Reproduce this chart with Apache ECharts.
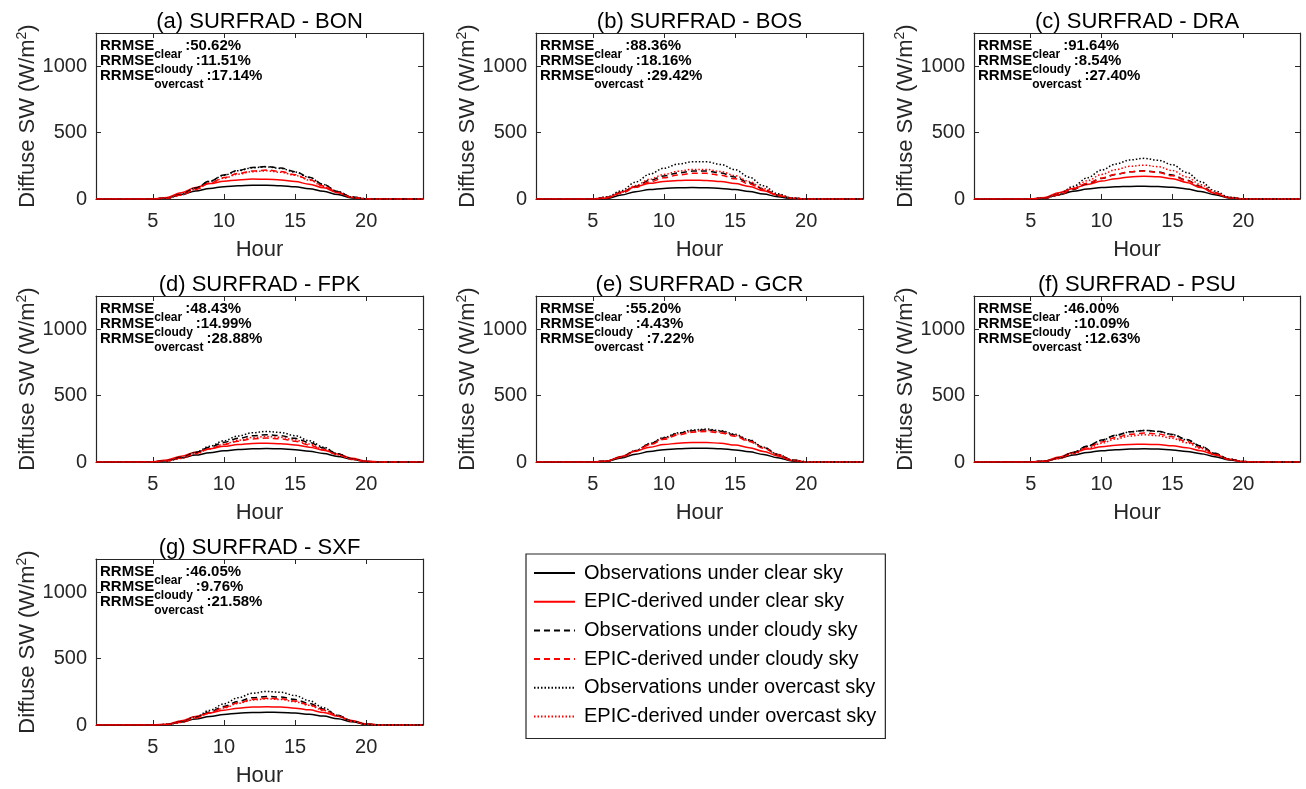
<!DOCTYPE html>
<html><head><meta charset="utf-8">
<script src="https://cdn.jsdelivr.net/npm/echarts@6/dist/echarts.min.js"></script>
<style>html,body{margin:0;padding:0;background:#fff}#c{width:1306px;height:789px}</style>
</head><body><div id="c"></div>
<script>
const hours = [1,2,3,4,5,6,7,8,9,10,11,12,13,14,15,16,17,18,19,20,21,22,23,24];
const xTicks = [5,10,15,20];
const yTicks = [0,500,1000];
const seriesNames = ['Observations under clear sky','EPIC-derived under clear sky','Observations under cloudy sky','EPIC-derived under cloudy sky','Observations under overcast sky','EPIC-derived under overcast sky'];
const panelTitles = ['(a) SURFRAD - BON','(b) SURFRAD - BOS','(c) SURFRAD - DRA','(d) SURFRAD - FPK','(e) SURFRAD - GCR','(f) SURFRAD - PSU','(g) SURFRAD - SXF'];
const rrmseClear    = ['50.62','88.36','91.64','48.43','55.20','46.00','46.05'];
const rrmseCloudy   = ['11.51','18.16','8.54','14.99','4.43','10.09','9.76'];
const rrmseOvercast = ['17.14','29.42','27.40','28.88','7.22','12.63','21.58'];

const bonObsClear     = [0,0,0,0,0,8,33,60,80,93,100,104,104,100,92,78,58,33,8,0,0,0,0,0];
const bonEpicClear    = [0,0,0,0,0,12,48,87,116,134,144,150,149,143,131,112,84,48,12,0,0,0,0,0];
const bonObsCloudy    = [0,0,0,0,0,7,34,83,135,181,216,238,245,233,206,164,110,56,15,2,0,0,0,0];
const bonEpicCloudy   = [0,0,0,0,0,7,31,74,120,161,192,211,218,207,183,146,98,50,13,2,0,0,0,0];
const bonObsOvercast  = [0,0,0,0,0,7,34,82,133,179,213,235,242,230,203,162,109,56,15,2,0,0,0,0];
const bonEpicOvercast = [0,0,0,0,0,6,30,72,117,157,187,206,212,201,178,142,95,49,13,2,0,0,0,0];

const bosObsClear     = [0,0,0,0,0,4,30,55,71,80,84,86,85,80,71,57,38,17,3,0,0,0,0,0];
const bosEpicClear    = [0,0,0,0,0,8,52,92,118,132,139,142,139,131,116,94,62,28,4,0,0,0,0,0];
const bosObsCloudy    = [0,0,0,0,0,13,47,95,140,174,197,210,210,195,165,123,74,30,6,0,0,0,0,0];
const bosEpicCloudy   = [0,0,0,0,0,12,43,88,129,160,181,193,193,179,152,113,68,27,6,0,0,0,0,0];
const bosObsOvercast  = [0,0,0,0,0,17,62,127,187,232,263,280,280,260,221,164,99,40,8,0,0,0,0,0];
const bosEpicOvercast = [0,0,0,0,0,14,50,101,149,185,209,223,223,207,176,131,79,32,7,0,0,0,0,0];

const draObsClear     = [0,0,0,0,1,8,32,58,75,86,92,95,96,94,88,76,57,32,8,0,0,0,0,0];
const draEpicClear    = [0,0,0,0,1,12,48,80,110,135,153,166,172,168,153,125,86,42,9,0,0,0,0,0];
const draObsCloudy    = [0,0,0,0,1,6,30,72,115,155,185,205,212,203,180,143,95,46,11,1,0,0,0,0];
const draEpicCloudy   = [0,0,0,0,1,7,32,75,118,157,186,205,211,200,175,138,90,44,10,1,0,0,0,0];
const draObsOvercast  = [0,0,0,0,1,7,38,95,160,218,263,294,306,292,258,200,130,60,14,1,0,0,0,0];
const draEpicOvercast = [0,0,0,0,1,7,34,84,138,185,221,246,255,243,214,166,108,50,12,1,0,0,0,0];

const fpkObsClear     = [0,0,0,0,1,10,30,52,70,84,94,99,101,99,92,81,64,42,20,4,0,0,0,0];
const fpkEpicClear    = [0,0,0,0,2,16,44,74,99,118,132,140,142,138,128,112,89,60,28,6,0,0,0,0];
const fpkObsCloudy    = [0,0,0,0,1,10,35,72,112,148,178,197,205,198,178,147,106,62,24,4,0,0,0,0];
const fpkEpicCloudy   = [0,0,0,0,1,9,31,64,99,131,157,174,180,174,156,128,92,54,21,3,0,0,0,0];
const fpkObsOvercast  = [0,0,0,0,1,8,32,72,118,160,196,220,230,222,198,160,112,62,22,3,0,0,0,0];
const fpkEpicOvercast = [0,0,0,0,1,7,27,60,98,134,164,184,192,186,166,135,95,53,19,3,0,0,0,0];

const gcrObsClear     = [0,0,0,0,0,6,30,58,79,93,100,104,104,100,91,77,57,32,8,0,0,0,0,0];
const gcrEpicClear    = [0,0,0,0,0,8,42,82,112,131,142,147,147,141,128,108,80,45,11,0,0,0,0,0];
const gcrObsCloudy    = [0,0,0,0,0,8,36,85,136,181,215,236,243,231,204,163,110,57,16,2,0,0,0,0];
const gcrEpicCloudy   = [0,0,0,0,0,8,35,81,129,171,204,224,230,219,193,154,104,54,15,2,0,0,0,0];
const gcrObsOvercast  = [0,0,0,0,0,8,37,86,139,185,220,241,248,236,209,167,112,58,16,2,0,0,0,0];
const gcrEpicOvercast = [0,0,0,0,0,8,35,83,133,177,211,231,238,226,200,160,108,56,15,2,0,0,0,0];

const psuObsClear     = [0,0,0,0,0,6,28,53,72,85,93,97,99,97,91,80,63,40,16,2,0,0,0,0];
const psuEpicClear    = [0,0,0,0,0,8,38,72,97,115,126,132,134,131,122,107,84,53,20,2,0,0,0,0];
const psuObsCloudy    = [0,0,0,0,0,7,30,72,120,165,202,228,238,231,208,170,120,66,22,3,0,0,0,0];
const psuEpicCloudy   = [0,0,0,0,0,6,28,66,110,151,185,209,218,211,190,155,109,60,20,3,0,0,0,0];
const psuObsOvercast  = [0,0,0,0,0,6,29,70,118,163,200,227,238,230,206,167,117,64,21,3,0,0,0,0];
const psuEpicOvercast = [0,0,0,0,0,5,25,61,102,141,173,196,205,198,178,145,102,56,18,3,0,0,0,0];

const sxfObsClear     = [0,0,0,0,0,4,22,45,64,79,89,94,96,95,90,81,67,47,24,6,0,0,0,0];
const sxfEpicClear    = [0,0,0,0,0,6,32,64,91,112,127,135,137,135,127,114,94,66,33,8,0,0,0,0];
const sxfObsCloudy    = [0,0,0,0,0,4,22,56,98,140,178,205,215,210,192,162,120,73,30,6,0,0,0,0];
const sxfEpicCloudy   = [0,0,0,0,0,4,21,53,92,132,167,193,202,197,180,152,113,69,28,6,0,0,0,0];
const sxfObsOvercast  = [0,0,0,0,0,4,24,62,110,160,205,239,253,246,222,183,130,74,28,5,0,0,0,0];
const sxfEpicOvercast = [0,0,0,0,0,4,20,51,89,128,163,188,197,192,175,148,110,67,27,5,0,0,0,0];

const panelData = [
  [bonObsClear,bonEpicClear,bonObsCloudy,bonEpicCloudy,bonObsOvercast,bonEpicOvercast],
  [bosObsClear,bosEpicClear,bosObsCloudy,bosEpicCloudy,bosObsOvercast,bosEpicOvercast],
  [draObsClear,draEpicClear,draObsCloudy,draEpicCloudy,draObsOvercast,draEpicOvercast],
  [fpkObsClear,fpkEpicClear,fpkObsCloudy,fpkEpicCloudy,fpkObsOvercast,fpkEpicOvercast],
  [gcrObsClear,gcrEpicClear,gcrObsCloudy,gcrEpicCloudy,gcrObsOvercast,gcrEpicOvercast],
  [psuObsClear,psuEpicClear,psuObsCloudy,psuEpicCloudy,psuObsOvercast,psuEpicOvercast],
  [sxfObsClear,sxfEpicClear,sxfObsCloudy,sxfEpicCloudy,sxfObsOvercast,sxfEpicOvercast]
];

const FONT = '"Liberation Sans", Arial, sans-serif';
const AX = '#262626';
const colLefts = [96, 536, 974];
const colWidths = [327, 327, 326];
const rowTops = [33, 296, 559];
const plotH = 166;
const seriesColors = ['#000000','#ff0000','#000000','#ff0000','#000000','#ff0000'];
const seriesDash = ['solid','solid',[6,4],[6,4],[1.5,2],[1.5,2]];

const cv = document.createElement('canvas').getContext('2d');
function tw(t, f){ cv.font = f; return cv.measureText(t).width; }

const grids=[], xAxes=[], yAxes=[], series=[], titles=[], graphics=[];
panelTitles.forEach((pt, i) => {
  const r = Math.floor(i/3), c = i%3;
  const L = colLefts[c], W = colWidths[c], T = rowTops[r];
  grids.push({left:L, top:T, width:W, height:plotH, containLabel:false});
  const tickCommon = {show:true, inside:true, length:5, lineStyle:{color:AX, width:1}};
  xAxes.push({type:'value', gridIndex:i, min:1, max:24, position:'bottom',
    axisLine:{show:true, onZero:false, lineStyle:{color:AX, width:1.2}},
    axisTick:Object.assign({customValues:xTicks}, tickCommon),
    axisLabel:{customValues:xTicks, color:AX, fontSize:20, fontFamily:FONT, margin:12, formatter:v => String(v)},
    splitLine:{show:false},
    name:'Hour', nameLocation:'middle', nameGap:40,
    nameTextStyle:{color:AX, fontSize:22, fontFamily:FONT}});
  xAxes.push({type:'value', gridIndex:i, min:1, max:24, position:'top',
    axisLine:{show:true, onZero:false, lineStyle:{color:AX, width:1.2}},
    axisTick:Object.assign({customValues:xTicks}, tickCommon),
    axisLabel:{show:false}, splitLine:{show:false}});
  yAxes.push({type:'value', gridIndex:i, min:0, max:1250, position:'left',
    axisLine:{show:true, onZero:false, lineStyle:{color:AX, width:1.2}},
    axisTick:Object.assign({customValues:yTicks}, tickCommon),
    axisLabel:{customValues:yTicks, color:AX, fontSize:20, fontFamily:FONT, margin:9, formatter:v => String(v)},
    splitLine:{show:false},
    name:'{a|Diffuse SW (W/m}{s|2}{a|)}', nameLocation:'middle', nameGap:55,
    nameTextStyle:{color:AX, fontFamily:FONT, rich:{
      a:{fontSize:22, lineHeight:24, color:AX, fontFamily:FONT},
      s:{fontSize:14, lineHeight:12, verticalAlign:'top', color:AX, fontFamily:FONT}}}});
  yAxes.push({type:'value', gridIndex:i, min:0, max:1250, position:'right',
    axisLine:{show:true, onZero:false, lineStyle:{color:AX, width:1.2}},
    axisTick:Object.assign({customValues:yTicks}, tickCommon),
    axisLabel:{show:false}, splitLine:{show:false}});
  panelData[i].forEach((arr, k) => {
    series.push({type:'line', name:seriesNames[k], xAxisIndex:2*i, yAxisIndex:2*i,
      data:hours.map((h, j) => [h, arr[j]]), symbol:'none', smooth:0.35, smoothMonotone:'x',
      lineStyle:{color:seriesColors[k], width:1.5, type:seriesDash[k]},
      itemStyle:{color:seriesColors[k]}, silent:true, animation:false});
  });
  titles.push({text:pt, left:L + W/2, top:T - 22, textAlign:'center', padding:0,
    textStyle:{fontSize:22, fontWeight:'normal', color:'#000', fontFamily:FONT}});
  // RRMSE annotation
  const mainF = 'bold 15px ' + FONT, subF = 'bold 12px ' + FONT;
  const subs = ['clear','cloudy','overcast'];
  const vals = [rrmseClear[i], rrmseCloudy[i], rrmseOvercast[i]];
  const x0 = L + 4;
  const wR = tw('RRMSE', mainF);
  subs.forEach((s, m) => {
    const base = T + 20.5 + 15*m;
    const ws = tw(s, subF);
    graphics.push({type:'text', x:x0, y:base, style:{text:'RRMSE', font:mainF, fill:'#000', verticalAlign:'bottom'}, silent:true});
    graphics.push({type:'text', x:x0 + wR, y:base + 7, style:{text:s, font:subF, fill:'#000', verticalAlign:'bottom'}, silent:true});
    graphics.push({type:'text', x:x0 + wR + ws + 3, y:base, style:{text:':' + vals[m] + '%', font:mainF, fill:'#000', verticalAlign:'bottom'}, silent:true});
  });
});

const chart = echarts.init(document.getElementById('c'), null, {renderer:'canvas'});
chart.setOption({
  animation:false,
  backgroundColor:'#ffffff',
  title:titles,
  grid:grids, xAxis:xAxes, yAxis:yAxes, series:series,
  graphic:graphics,
  legend:{show:true, orient:'vertical', left:526, top:554, data:seriesNames,
    itemWidth:41, itemHeight:14, itemGap:8.7, padding:[9,9,12,7],
    borderColor:AX, borderWidth:1.2, backgroundColor:'#fff', selectedMode:false,
    textStyle:{fontSize:20, color:'#000', fontFamily:FONT, padding:[0,0,0,4]},
    itemStyle:{opacity:0}}
});
</script></body></html>
